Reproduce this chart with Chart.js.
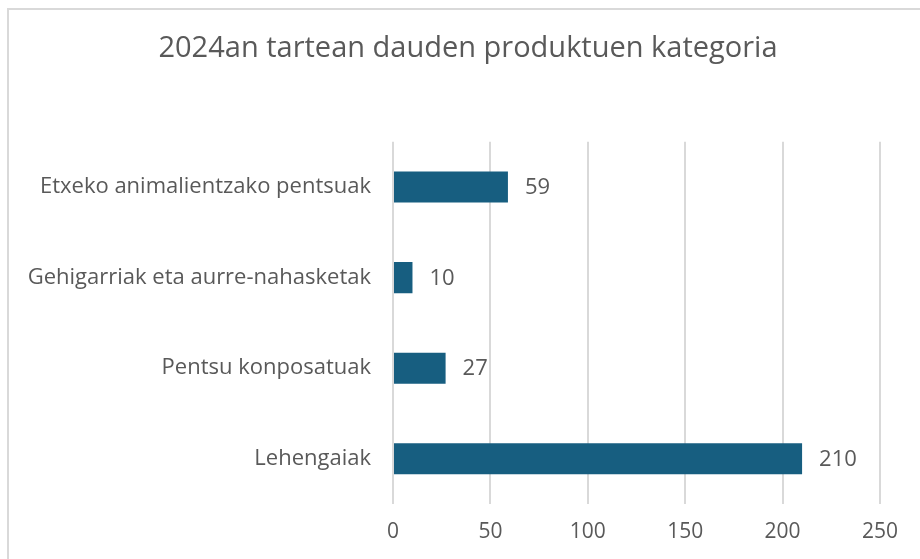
<!DOCTYPE html>
<html lang="eu">
<head>
    <meta charset="UTF-8">
    <title>2024an tartean dauden produktuen kategoria</title>
    <style>
        html, body {
            margin: 0;
            padding: 0;
            background: #ffffff;
            overflow: hidden;
        }
        #frame {
            position: absolute;
            left: 7px;
            top: 8px;
            width: 960px;
            height: 600px;
            border: 2px solid #d9d9d9;
        }
        #wrap {
            position: absolute;
            left: 0;
            top: 0;
            width: 920px;
            height: 559px;
        }
    </style>
    <script src="https://cdn.jsdelivr.net/npm/chart.js"></script>
</head>
<body>
<div id="frame"></div>
<div id="wrap"><canvas id="chart" width="920" height="559"></canvas></div>

<script>
    // datuak
    var categories = ['Etxeko animalientzako pentsuak', 'Gehigarriak eta aurre-nahasketak', 'Pentsu konposatuak', 'Lehengaiak'];
    var values = [59, 10, 27, 210];
    var xTicks = [0, 50, 100, 150, 200, 250];

    var textColor = '#595959';
    var fontFamily = "'Open Sans', 'Noto Sans', sans-serif";

    // balioak barraren eskuinean
    var valueLabels = {
        id: 'valueLabels',
        afterLayout: function (chart) {
            // izenburua apur bat eskuinera, jatorrizkoan bezala
            if (chart.titleBlock) {
                chart.titleBlock.left = 56;
                chart.titleBlock.right = 880;
            }
        },
        afterDatasetsDraw: function (chart) {
            var ctx = chart.ctx;
            var meta = chart.getDatasetMeta(0);
            ctx.save();
            ctx.fillStyle = textColor;
            ctx.font = '22px ' + fontFamily;
            ctx.textAlign = 'left';
            ctx.textBaseline = 'middle';
            meta.data.forEach(function (bar, i) {
                ctx.fillText(String(values[i]), bar.x + 17, bar.y + 1);
            });
            ctx.restore();
        }
    };

    var ctx = document.getElementById('chart').getContext('2d');
    var myChart = new Chart(ctx, {
        type: 'bar',
        data: {
            labels: categories,
            datasets: [{
                data: values,
                backgroundColor: '#175e80',
                borderWidth: 0,
                barPercentage: 0.7,
                categoryPercentage: 0.49
            }]
        },
        plugins: [valueLabels],
        options: {
            indexAxis: 'y',
            responsive: false,
            animation: false,
            layout: {
                padding: { left: 0, right: 40, top: 0, bottom: 0 }
            },
            plugins: {
                legend: { display: false },
                tooltip: { enabled: false },
                title: {
                    display: true,
                    text: '2024an tartean dauden produktuen kategoria',
                    color: textColor,
                    font: { family: fontFamily, size: 29, weight: 'normal', lineHeight: 1.2 },
                    padding: { top: 31, bottom: 76 }
                }
            },
            scales: {
                x: {
                    min: 0,
                    max: 250,
                    afterBuildTicks: function (scale) {
                        scale.ticks = xTicks.map(function (v) { return { value: v }; });
                    },
                    afterFit: function (scale) {
                        scale.height = 55;
                    },
                    grid: {
                        color: '#d9d9d9',
                        lineWidth: 2,
                        drawTicks: false
                    },
                    border: { display: false },
                    ticks: {
                        color: textColor,
                        padding: 15,
                        font: { family: fontFamily, size: 21 }
                    }
                },
                y: {
                    afterFit: function (scale) {
                        scale.width = 393;
                    },
                    grid: { display: false, drawTicks: false },
                    border: { display: false },
                    ticks: {
                        color: textColor,
                        padding: 22,
                        font: { family: fontFamily, size: 22 }
                    }
                }
            }
        }
    });
</script>
</body>
</html>
